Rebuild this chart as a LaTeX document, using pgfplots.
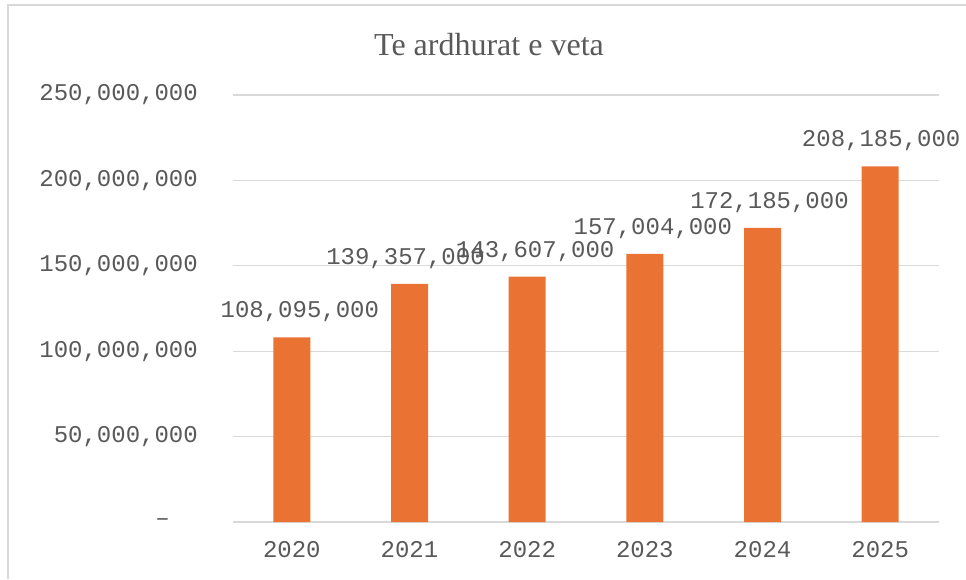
\documentclass[border=0pt]{standalone}
\usepackage{fontspec}
\setmainfont{Liberation Serif}
\newfontfamily\monofont{Liberation Mono}
\usepackage{pgfplots}
\usepackage{pgfplotstable}
\pgfplotsset{compat=1.18}
\definecolor{txt}{HTML}{595959}
\definecolor{gridc}{HTML}{D9D9D9}
\definecolor{barc}{RGB}{234,115,52}
\pgfplotstableread{
x y label dx
0 108095000 108,095,000 8
1 139357000 139,357,000 -4
2 143607000 143,607,000 8
3 157004000 157,004,000 8
4 172185000 172,185,000 7
5 208185000 208,185,000 1
}\data
\begin{document}
\begin{tikzpicture}[x=1pt,y=1pt]
\useasboundingbox (0,0) rectangle (966,579);
\draw[gridc, line width=1.5pt] (8,0) -- (8,574) -- (966,574);
\node[anchor=base, text=txt, inner sep=0pt, font=\fontsize{32}{36}\selectfont] at (489,523) {Te ardhurat e veta};
\begin{axis}[
  at={(233pt,57pt)}, anchor=south west,
  scale only axis, width=706pt, height=427pt,
  xmin=-0.5, xmax=5.5, ymin=0, ymax=250000000,
  axis x line*=bottom, axis y line*=left,
  axis line style={draw=none},
  major tick length=0pt,
  tick style={draw=none},
  ytick={0,50000000,100000000,150000000,200000000,250000000},
  yticklabels={{\textendash\hspace*{28pt}},{50,000,000},{100,000,000},{150,000,000},{200,000,000},{250,000,000}},
  xtick={0,1,2,3,4,5},
  xticklabels={2020,2021,2022,2023,2024,2025},
  ymajorgrids, grid style={gridc, line width=1.3pt},
  ticklabel style={font=\monofont\fontsize{24}{28}\selectfont, text=txt},
  yticklabel style={anchor=east, inner sep=0pt, xshift=-35pt},
  xticklabel style={anchor=north, inner sep=0pt, yshift=-19pt},
  scaled y ticks=false,
  clip=false,
  ybar, bar width=37pt,
  nodes near coords,
  point meta=explicit symbolic,
  visualization depends on={\thisrow{dx}\as\dx},
  every node near coord/.append style={font=\monofont\fontsize{24}{28}\selectfont, text=txt, inner sep=0pt, xshift=\dx pt, yshift=15pt},
]
\addplot[fill=barc, draw=none] table[x=x, y=y, meta=label]{\data};
\end{axis}
\end{tikzpicture}
\end{document}
